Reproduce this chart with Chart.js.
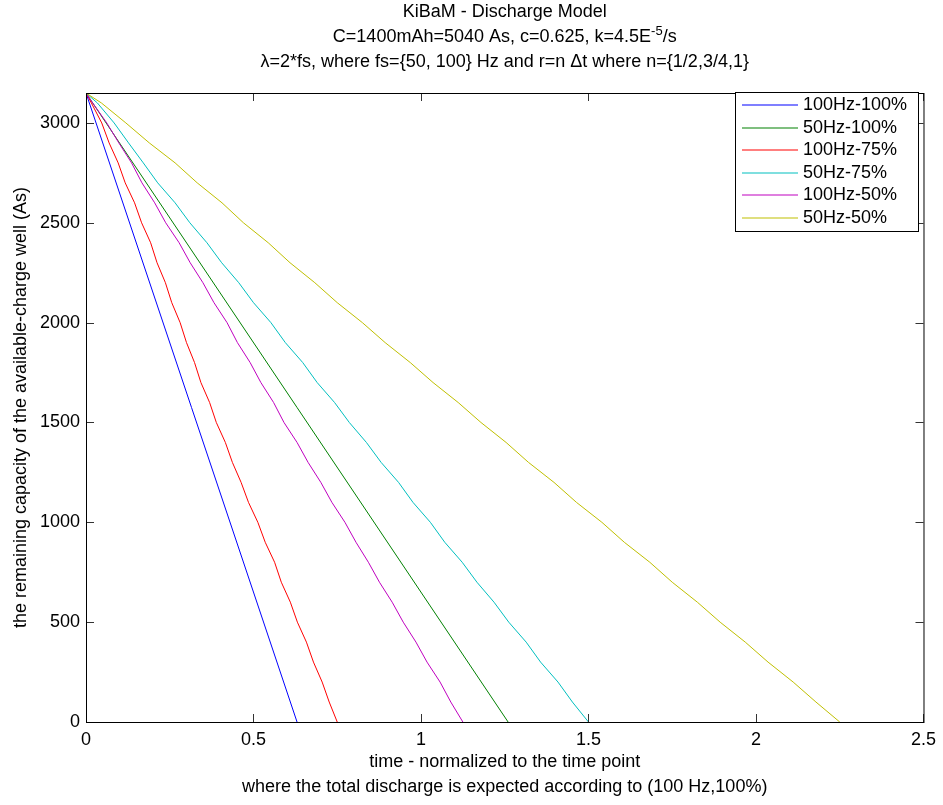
<!DOCTYPE html>
<html>
<head>
<meta charset="utf-8">
<script src="https://cdn.jsdelivr.net/npm/chart.js@4.4.1/dist/chart.umd.min.js"></script>
<style>
  html, body { margin: 0; padding: 0; background: #fff; }
</style>
</head>
<body>
<canvas id="myChart" width="943" height="805"></canvas>
<script>
// chart texts
const titleLine1 = 'KiBaM - Discharge Model';
const titleLine2 = ['C=1400mAh=5040 As, c=0.625, k=4.5E', '-5', '/s'];
const titleLine3 = 'λ=2*fs, where fs={50, 100} Hz and r=n Δt where n={1/2,3/4,1}';
const xTitle = ['time - normalized to the time point', 'where the total discharge is expected according to (100 Hz,100%)'];
const yTitle = 'the remaining capacity of the available-charge well (As)';

const seriesNames = ['100Hz-100%', '50Hz-100%', '100Hz-75%', '50Hz-75%', '100Hz-50%', '50Hz-50%'];
const seriesColors = ['#0000ff', '#008000', '#ff0000', '#00bfbf', '#bf00bf', '#bfbf00'];

const levelsEnds = [3150, 0];
const levelsFull = [3150, 3100, 3000, 2900, 2800, 2700, 2600, 2500, 2400, 2300, 2200, 2100, 2000,
  1900, 1800, 1700, 1600, 1500, 1400, 1300, 1200, 1100, 1000, 900, 800, 700, 600, 500, 400, 300, 200, 100, 0];

// normalized time for each level
const t100Hz100 = [0, 0.63];
const t50Hz100 = [0, 1.26];
const t100Hz75 = [0, 0.016, 0.047, 0.069, 0.096, 0.117, 0.145, 0.166, 0.193, 0.212, 0.237, 0.256, 0.281,
  0.300, 0.324, 0.343, 0.369, 0.389, 0.416, 0.437, 0.463, 0.485, 0.513, 0.535, 0.563, 0.583, 0.610, 0.631,
  0.658, 0.679, 0.705, 0.726, 0.750];
const t50Hz75 = [0, 0.034, 0.084, 0.127, 0.171, 0.214, 0.266, 0.310, 0.361, 0.405, 0.456, 0.500, 0.552,
  0.595, 0.647, 0.690, 0.742, 0.786, 0.837, 0.881, 0.933, 0.976, 1.028, 1.071, 1.123, 1.167, 1.218, 1.262,
  1.314, 1.357, 1.409, 1.452, 1.500];
const t100Hz50 = [0, 0.020, 0.062, 0.098, 0.136, 0.167, 0.205, 0.238, 0.278, 0.311, 0.349, 0.382, 0.421,
  0.452, 0.490, 0.522, 0.560, 0.591, 0.630, 0.663, 0.701, 0.734, 0.773, 0.806, 0.843, 0.876, 0.914, 0.947,
  0.985, 1.018, 1.057, 1.089, 1.125];
const t50Hz50 = [0, 0.046, 0.119, 0.189, 0.266, 0.332, 0.406, 0.470, 0.544, 0.609, 0.683, 0.750, 0.825,
  0.893, 0.968, 1.036, 1.111, 1.179, 1.254, 1.321, 1.397, 1.464, 1.540, 1.607, 1.683, 1.750, 1.825, 1.893,
  1.968, 2.036, 2.111, 2.179, 2.250];

const xTicks = [0, 0.5, 1, 1.5, 2, 2.5];
const yTicks = [0, 500, 1000, 1500, 2000, 2500, 3000];

const FONT = '"Liberation Sans", Arial, sans-serif';
const FS = 18;

const seriesTimes = [t100Hz100, t50Hz100, t100Hz75, t50Hz75, t100Hz50, t50Hz50];
const seriesLevels = [levelsEnds, levelsEnds, levelsFull, levelsFull, levelsFull, levelsFull];

const datasets = seriesNames.map((name, i) => ({
  label: name,
  data: seriesTimes[i].map((t, j) => ({ x: t, y: seriesLevels[i][j] })),
  borderColor: seriesColors[i],
  backgroundColor: seriesColors[i],
  borderWidth: 1,
  pointRadius: 0,
  showLine: true,
  tension: 0,
  order: seriesNames.length - i
}));

// frame, inward ticks, titles and legend like the matlab figure
const matlabLook = {
  id: 'matlabLook',
  afterDraw(chart) {
    const ctx = chart.ctx;
    const { left, right, top, bottom } = chart.chartArea;
    const xs = chart.scales.x;
    const ys = chart.scales.y;
    ctx.save();

    // ticks
    ctx.strokeStyle = '#333';
    ctx.lineWidth = 1;
    ctx.beginPath();
    xTicks.forEach(v => {
      const px = Math.round(xs.getPixelForValue(v)) + 0.5;
      ctx.moveTo(px, bottom); ctx.lineTo(px, bottom - 8);
      ctx.moveTo(px, top); ctx.lineTo(px, top + 8);
    });
    yTicks.forEach(v => {
      const py = Math.round(ys.getPixelForValue(v)) + 0.5;
      ctx.moveTo(left, py); ctx.lineTo(left + 8, py);
      ctx.moveTo(right, py); ctx.lineTo(right - 8, py);
    });
    ctx.stroke();

    // frame
    ctx.strokeStyle = '#000';
    ctx.lineWidth = 1;
    ctx.strokeRect(left + 0.5, top + 0.5, right - left, bottom - top);

    // titles
    const cx = (left + right) / 2;
    ctx.fillStyle = '#000';
    ctx.textBaseline = 'middle';
    ctx.textAlign = 'center';
    ctx.font = FS + 'px ' + FONT;
    ctx.fillText(titleLine1, cx, 12);
    ctx.fillText(titleLine3, cx, 62);

    const supFont = '13px ' + FONT;
    const w0 = ctx.measureText(titleLine2[0]).width;
    const w2 = ctx.measureText(titleLine2[2]).width;
    ctx.font = supFont;
    const w1 = ctx.measureText(titleLine2[1]).width;
    let x0 = cx - (w0 + w1 + w2) / 2;
    ctx.textAlign = 'left';
    ctx.font = FS + 'px ' + FONT;
    ctx.fillText(titleLine2[0], x0, 37);
    ctx.font = supFont;
    ctx.fillText(titleLine2[1], x0 + w0, 31);
    ctx.font = FS + 'px ' + FONT;
    ctx.fillText(titleLine2[2], x0 + w0 + w1, 37);

    // legend
    const lx = 735, ly = 92, lw = 183, lh = 139;
    ctx.fillStyle = '#fff';
    ctx.fillRect(lx, ly, lw, lh);
    ctx.strokeStyle = '#000';
    ctx.strokeRect(lx + 0.5, ly + 0.5, lw, lh);
    chart.data.datasets.forEach((ds, i) => {
      const yy = 105 + i * 22.6;
      ctx.strokeStyle = ds.borderColor;
      ctx.lineWidth = 1.2;
      ctx.beginPath();
      ctx.moveTo(742, Math.round(yy));
      ctx.lineTo(798, Math.round(yy));
      ctx.stroke();
      ctx.fillStyle = '#000';
      ctx.font = FS + 'px ' + FONT;
      ctx.textAlign = 'left';
      ctx.fillText(ds.label, 803, yy);
    });
    ctx.restore();
  }
};

const chart = new Chart(document.querySelector('#myChart').getContext('2d'), {
  type: 'scatter',
  data: { datasets },
  options: {
    responsive: false,
    animation: false,
    devicePixelRatio: 1,
    layout: { padding: { top: 93, right: 15, left: 0, bottom: 0 } },
    plugins: {
      legend: { display: false },
      title: { display: false },
      tooltip: { enabled: false }
    },
    scales: {
      x: {
        type: 'linear',
        min: 0,
        max: 2.5,
        afterFit: scale => { scale.height = 83; },
        afterBuildTicks: scale => { scale.ticks = xTicks.map(v => ({ value: v })); },
        grid: { display: false, drawTicks: false },
        border: { display: false },
        ticks: {
          color: '#000',
          padding: 7,
          maxRotation: 0,
          font: { family: FONT, size: FS },
          callback: v => String(v)
        },
        title: {
          display: true,
          text: xTitle,
          color: '#000',
          font: { family: FONT, size: FS, lineHeight: 25 / FS },
          padding: { top: 0, bottom: 5.5 }
        }
      },
      y: {
        type: 'linear',
        min: 0,
        max: 3150,
        afterFit: scale => { scale.width = 86; },
        afterBuildTicks: scale => { scale.ticks = yTicks.map(v => ({ value: v })); },
        grid: { display: false, drawTicks: false },
        border: { display: false },
        ticks: {
          color: '#000',
          padding: 6,
          font: { family: FONT, size: FS },
          callback: v => String(v)
        },
        title: {
          display: true,
          text: yTitle,
          color: '#000',
          font: { family: FONT, size: FS, lineHeight: 25 / FS },
          padding: { top: 8.5, bottom: 0 }
        }
      }
    }
  },
  plugins: [matlabLook]
});
</script>
</body>
</html>
